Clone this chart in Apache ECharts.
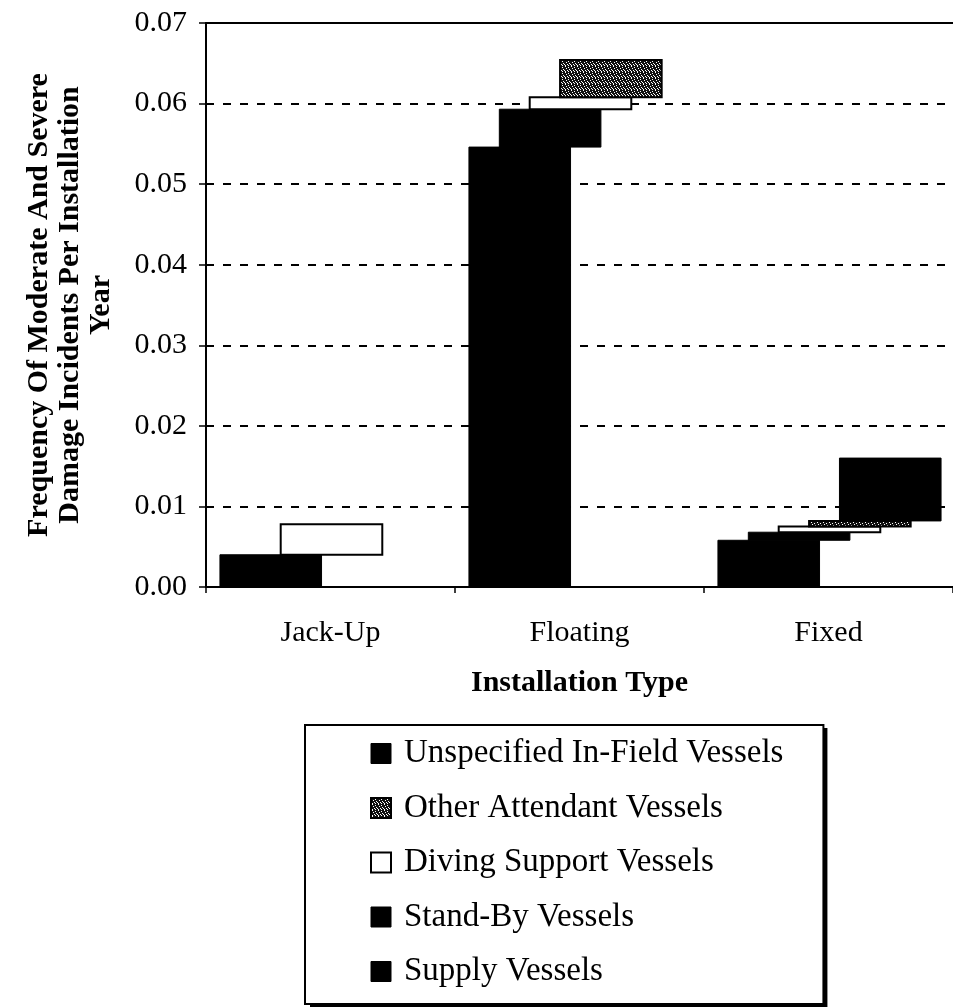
<!DOCTYPE html>
<html>
<head>
<meta charset="utf-8">
<script src="https://cdn.jsdelivr.net/npm/echarts@6/dist/echarts.min.js"></script>
<style>
html,body{margin:0;padding:0;background:#fff;overflow:hidden;}
#chart{width:953px;height:1008px;}
</style>
</head>
<body>
<div id="chart"></div>
<script>
// ---- data ----
const categories = ['Jack-Up', 'Floating', 'Fixed'];
const seriesNames = ['Supply Vessels', 'Stand-By Vessels', 'Diving Support Vessels', 'Other Attendant Vessels', 'Unspecified In-Field Vessels'];
const supplyVessels = [0.0040, 0.0546, 0.0058];
const standByVessels = [0.0000, 0.0047, 0.0010];
const divingSupportVessels = [0.0038, 0.0015, 0.0007];
const otherAttendantVessels = [0.0000, 0.0046, 0.0007];
const unspecifiedVessels = [0.0000, 0.0000, 0.0078];
const yTickValues = [0.00, 0.01, 0.02, 0.03, 0.04, 0.05, 0.06, 0.07];
const legendOrder = ['Unspecified In-Field Vessels', 'Other Attendant Vessels', 'Diving Support Vessels', 'Stand-By Vessels', 'Supply Vessels'];

const valueSets = [supplyVessels, standByVessels, divingSupportVessels, otherAttendantVessels, unspecifiedVessels];

// speckled pattern for "Other Attendant Vessels"
const pc = document.createElement('canvas');
pc.width = 6; pc.height = 6;
const pctx = pc.getContext('2d');
pctx.fillStyle = '#111';
pctx.fillRect(0, 0, 6, 6);
pctx.fillStyle = '#fff';
[[1,0],[4,1],[2,2],[5,3],[0,4],[3,4],[1,5],[4,5]].forEach(p => pctx.fillRect(p[0], p[1], 1, 1));
const speckle = { image: pc, repeat: 'repeat' };

const FONT = 'Liberation Serif';
const START = 0.056, STEP = 0.122, WIDTH = 0.408;

const styles = [
  { fill: '#000', stroke: '#000', lineWidth: 1 },
  { fill: '#000', stroke: '#000', lineWidth: 1 },
  { fill: '#fff', stroke: '#000', lineWidth: 2 },
  { fill: speckle, stroke: '#000', lineWidth: 2 },
  { fill: '#000', stroke: '#000', lineWidth: 1 }
];

// cumulative stacking
const base = categories.map(() => 0);
const series = valueSets.map((vals, k) => {
  const data = vals.map((v, ci) => {
    const lo = base[ci];
    const hi = lo + v;
    base[ci] = hi;
    return [ci, lo, hi];
  });
  return {
    name: seriesNames[k],
    type: 'custom',
    itemStyle: { color: styles[k].fill, borderColor: '#000', borderWidth: styles[k].lineWidth },
    encode: { x: 0, y: [1, 2] },
    data: data,
    renderItem: function (params, api) {
      const ci = api.value(0), lo = api.value(1), hi = api.value(2);
      if (!(hi > lo)) return null;
      const band = api.size([1, 0])[0];
      const pLo = api.coord([ci, lo]);
      const pHi = api.coord([ci, hi]);
      const x = pLo[0] - band / 2 + band * (START + STEP * k);
      return {
        type: 'rect',
        shape: { x: x, y: pHi[1], width: band * WIDTH, height: pLo[1] - pHi[1] },
        style: styles[k]
      };
    }
  };
});

// legend box geometry (for its drop shadow)
const LEG = { left: 305, top: 725, pad: [12, 40, 16, 65], icon: 20, gap: 21.5, font: 33, textPad: 8 };
const mctx = document.createElement('canvas').getContext('2d');
mctx.font = LEG.font + 'px "' + FONT + '"';
const maxTextW = Math.max.apply(null, legendOrder.map(t => mctx.measureText(t).width));
const legW = LEG.pad[3] + LEG.icon + 5 + LEG.textPad + maxTextW + LEG.pad[1];
const rowH = Math.max(LEG.icon, LEG.font);
const legH = LEG.pad[0] + rowH * legendOrder.length + LEG.gap * (legendOrder.length - 1) + LEG.pad[2];

const chart = echarts.init(document.getElementById('chart'));
chart.setOption({
  animation: false,
  backgroundColor: '#fff',
  grid: { left: 206, top: 23, width: 750, bottom: 421, show: false },
  xAxis: [{
    type: 'category',
    data: categories,
    name: 'Installation Type',
    nameLocation: 'middle',
    nameGap: 81,
    nameTextStyle: { fontFamily: FONT, fontSize: 30, fontWeight: 'bold', color: '#000' },
    axisLine: { lineStyle: { color: '#000', width: 2 } },
    axisTick: { show: true, length: 6, lineStyle: { color: '#000', width: 1.5 } },
    axisLabel: { fontFamily: FONT, fontSize: 30, color: '#000', margin: 31 },
    splitLine: { show: false }
  }, {
    type: 'category',
    data: categories,
    position: 'top',
    axisLine: { show: true, lineStyle: { color: '#000', width: 2 } },
    axisTick: { show: false },
    axisLabel: { show: false },
    splitLine: { show: false }
  }],
  yAxis: {
    type: 'value',
    min: yTickValues[0],
    max: yTickValues[yTickValues.length - 1],
    interval: yTickValues[1] - yTickValues[0],
    name: 'Frequency Of Moderate And Severe\nDamage Incidents Per Installation\nYear',
    nameLocation: 'middle',
    nameRotate: 90,
    nameGap: 89,
    nameTextStyle: { fontFamily: FONT, fontSize: 30, fontWeight: 'bold', color: '#000', lineHeight: 31 },
    axisLine: { show: true, lineStyle: { color: '#000', width: 2 } },
    axisTick: { show: true, length: 7, lineStyle: { color: '#000', width: 1.5 } },
    axisLabel: {
      fontFamily: FONT, fontSize: 30, color: '#000', margin: 19,
      formatter: v => v.toFixed(2)
    },
    splitLine: { show: true, lineStyle: { color: '#000', width: 2, type: [8, 9] } }
  },
  graphic: [{
    type: 'rect',
    z: 1,
    shape: { x: LEG.left + 5, y: LEG.top + 3, width: legW, height: legH },
    style: { fill: '#000' }
  }],
  legend: {
    z: 5,
    orient: 'vertical',
    left: LEG.left,
    top: LEG.top,
    padding: LEG.pad,
    itemGap: LEG.gap,
    itemWidth: LEG.icon,
    itemHeight: LEG.icon,
    icon: 'rect',
    backgroundColor: '#fff',
    borderColor: '#000',
    borderWidth: 2,
    textStyle: { fontFamily: FONT, fontSize: LEG.font, color: '#000', padding: [0, 0, 0, LEG.textPad] },
    data: legendOrder.map(n => {
      const k = seriesNames.indexOf(n);
      return { name: n, itemStyle: { color: styles[k].fill, borderColor: '#000', borderWidth: styles[k].lineWidth } };
    })
  },
  series: series
});
</script>
</body>
</html>
